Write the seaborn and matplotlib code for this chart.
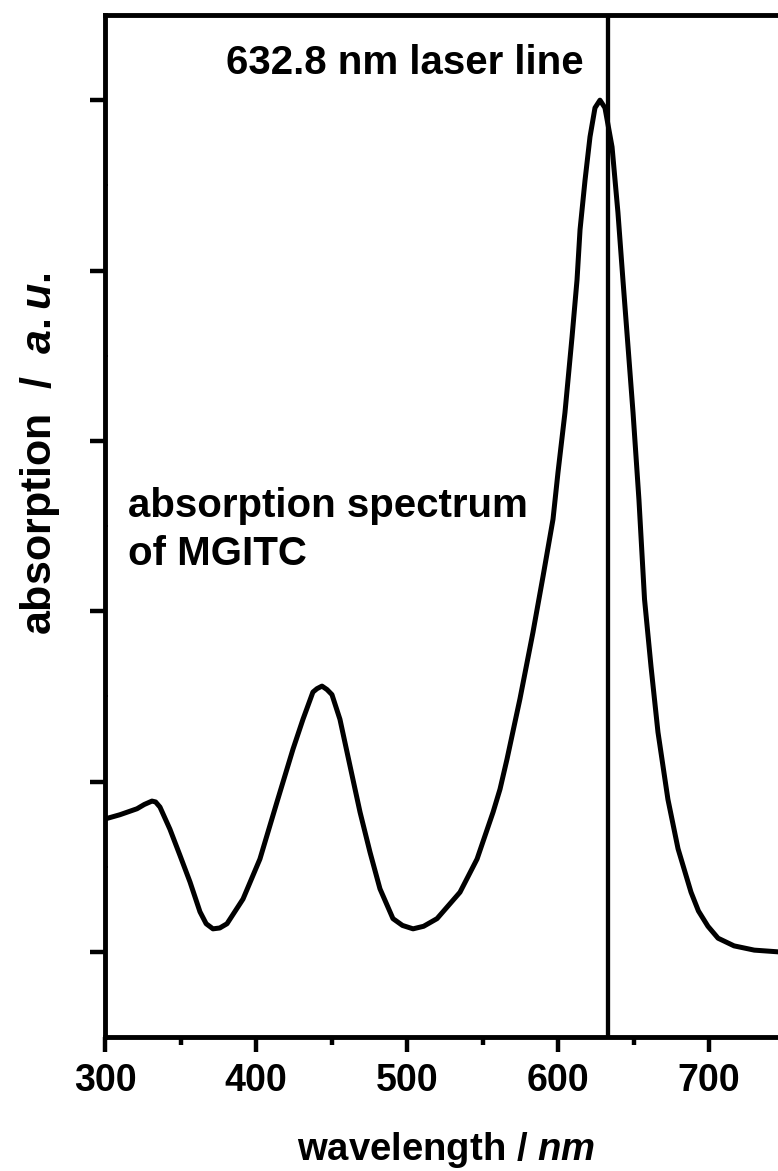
import numpy as np
import pandas as pd
import matplotlib
matplotlib.use("Agg")
import matplotlib.pyplot as plt
import seaborn as sns
from matplotlib.ticker import MultipleLocator

# ==============================
# DATA
# ==============================
wavelength = [300.0, 309.9, 321.2, 326.0, 331.1, 333.5, 336.4, 343.0, 349.7, 356.3,
              362.9, 367.0, 371.5, 376.0, 380.8, 391.4, 402.6, 413.9, 424.5, 431.1,
              437.7, 440.4, 443.7, 447.0, 450.3, 455.6, 462.3, 468.9, 475.5, 482.1,
              490.7, 497.0, 504.0, 511.0, 519.9, 535.1, 546.4, 557.0, 561.6, 566.2,
              574.8, 583.4, 590.1, 596.7, 600.0, 604.6, 609.3, 612.6, 614.6, 617.9,
              621.2, 624.5, 627.8, 631.1, 635.8, 639.7, 643.0, 646.4, 649.7, 653.6,
              657.3, 661.6, 666.2, 672.8, 679.5, 688.1, 693.0, 699.3, 706.0, 716.6,
              730.0, 745.7, 750.0]
absorption = [0.156, 0.161, 0.168, 0.173, 0.177, 0.176, 0.170, 0.144, 0.113, 0.082,
              0.047, 0.033, 0.027, 0.028, 0.033, 0.062, 0.109, 0.176, 0.238, 0.273,
              0.305, 0.309, 0.312, 0.308, 0.302, 0.273, 0.218, 0.164, 0.117, 0.074,
              0.039, 0.031, 0.027, 0.030, 0.039, 0.070, 0.109, 0.164, 0.191, 0.226,
              0.297, 0.375, 0.441, 0.508, 0.563, 0.633, 0.722, 0.789, 0.848, 0.906,
              0.957, 0.991, 1.000, 0.991, 0.945, 0.868, 0.789, 0.710, 0.633, 0.531,
              0.414, 0.335, 0.258, 0.179, 0.121, 0.070, 0.048, 0.030, 0.016, 0.007,
              0.002, 0.0, 0.0]
laser_line = 632.8
x_ticks = [300, 400, 500, 600, 700]

df = pd.DataFrame({"wavelength": wavelength, "absorption": absorption})

# ==============================
# STYLE
# ==============================
sns.set_style("ticks")
plt.rcParams["font.family"] = ["Liberation Sans", "DejaVu Sans"]
plt.rcParams["font.weight"] = "bold"
plt.rcParams["text.color"] = "black"
plt.rcParams["axes.edgecolor"] = "black"
plt.rcParams["xtick.color"] = "black"
plt.rcParams["ytick.color"] = "black"
plt.rcParams["mathtext.fontset"] = "custom"
plt.rcParams["mathtext.it"] = "Liberation Sans:italic:bold"
plt.rcParams["mathtext.rm"] = "Liberation Sans:bold"

W, H = 778, 1171
fig = plt.figure(figsize=(W / 100, H / 100), dpi=100)
# axes box in pixels: left 105, right ~784 (cut by the figure edge), top 15, bottom 1037
ax = fig.add_axes([105 / W, (H - 1037) / H, (784.5 - 105) / W, (1037 - 15) / H])

# ==============================
# PLOT
# ==============================
sns.lineplot(data=df, x="wavelength", y="absorption", ax=ax,
             color="black", linewidth=3.6, sort=False)
ax.axvline(laser_line, color="black", linewidth=3.1)

ax.set_xlim(300, 750)
ax.set_ylim(-0.1, 1.1)
ax.set_xticks(x_ticks)
ax.xaxis.set_minor_locator(MultipleLocator(50))
ax.yaxis.set_major_locator(MultipleLocator(0.2))
ax.yaxis.set_minor_locator(MultipleLocator(0.1))
ax.set_yticklabels([])

for s in ax.spines.values():
    s.set_linewidth(3.5)
    s.set_color("black")

ax.tick_params(axis="x", which="major", direction="out", length=11, width=3.2,
               labelsize=27, pad=8, colors="black")
ax.tick_params(axis="x", which="minor", direction="out", length=6, width=3.2)
ax.tick_params(axis="y", which="major", direction="out", length=11, width=3.2)
ax.tick_params(axis="y", which="minor", direction="in", length=2, width=1.5)
for lab in ax.get_xticklabels():
    lab.set_fontweight("bold")

ax.set_xlabel("")
ax.set_ylabel("")

# axis labels
fig.text(446 / W, 1 - 1160 / H, "wavelength / $nm$", ha="center", va="baseline",
         fontsize=27.5, fontweight="bold", color="black")
fig.text(40 / W, 1 - 454 / H, "absorption  /  $a.u.$", ha="center", va="center",
         rotation=90, fontsize=31, fontweight="bold", color="black")

# annotations
ax.text(0.4415, 0.9423, "632.8 nm laser line", transform=ax.transAxes,
        ha="center", va="baseline", fontsize=29, fontweight="bold", color="black")
ax.text(0.0338, 0.5088, "absorption spectrum", transform=ax.transAxes,
        ha="left", va="baseline", fontsize=29, fontweight="bold", color="black")
ax.text(0.0338, 0.4618, "of MGITC", transform=ax.transAxes,
        ha="left", va="baseline", fontsize=29, fontweight="bold", color="black")

fig.savefig("out.png", dpi=100)
